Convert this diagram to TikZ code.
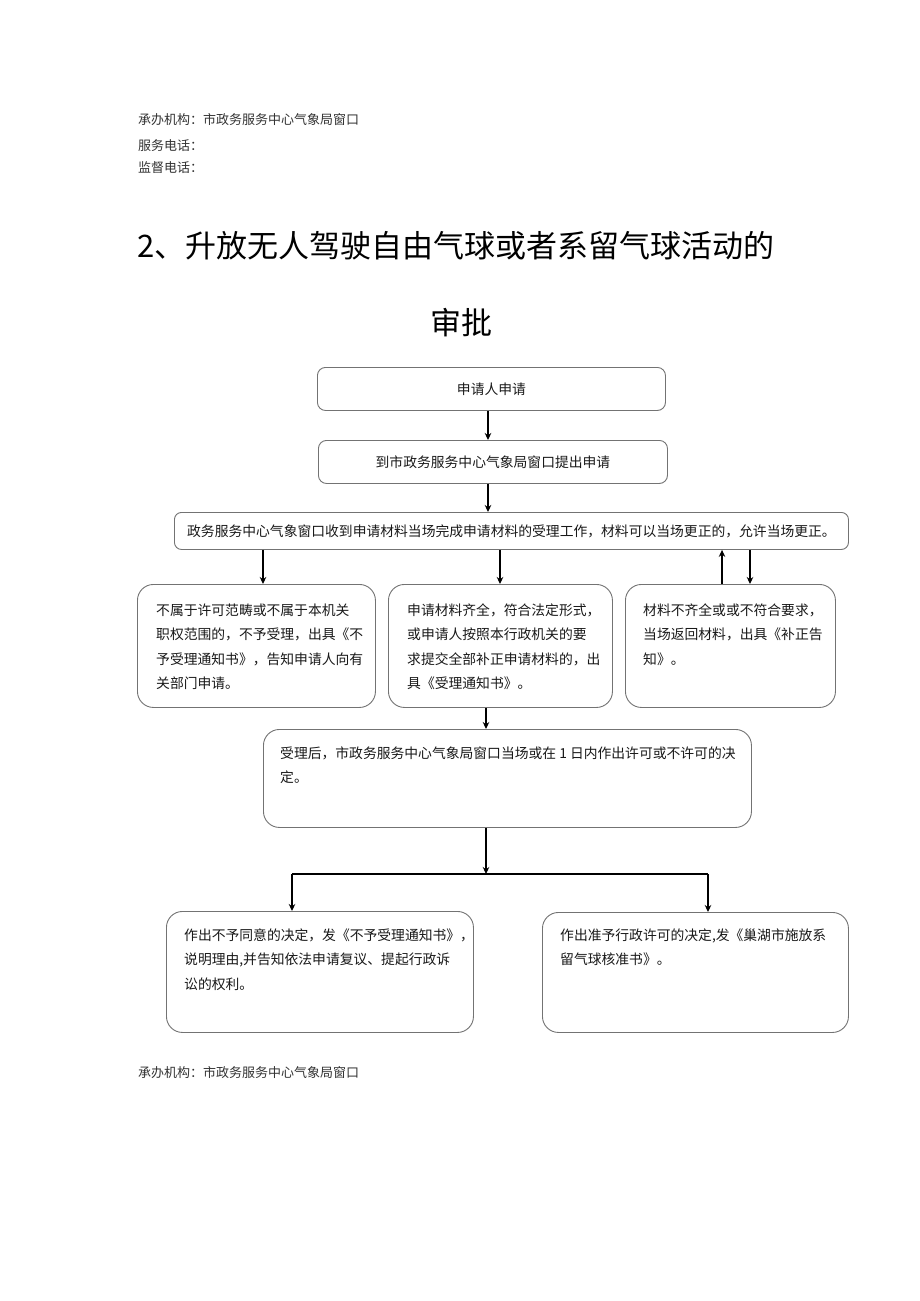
\documentclass[tikz,border=0pt]{standalone}
\usepackage{fontspec}
\newfontfamily\cjk{Noto Sans CJK SC}
\usetikzlibrary{arrows.meta,calc}
\begin{document}
\begin{tikzpicture}[x=1pt,y=-1pt,
  box/.style={draw=black!55, line width=0.9pt, fill=white, inner sep=0pt, anchor=north west,
    font=\cjk\fontsize{13.8}{24.3}\selectfont, text=black!90},
  txt/.style={font=\cjk\fontsize{13.8}{24.3}\selectfont, text=black!90, inner sep=0pt, align=left, anchor=north west},
  hdr/.style={font=\cjk\fontsize{13}{15}\selectfont, text=black!80, inner sep=0pt, anchor=west},
  ttl/.style={font=\cjk\fontsize{31}{36}\selectfont, text=black, inner sep=0pt},
  arr/.style={-{Stealth[length=7pt,width=6.5pt]}, line width=1.3pt, draw=black},
  conn/.style={line width=1.3pt, draw=black}]
\useasboundingbox[fill=white] (0,0) rectangle (920,1301);

% header
\node[hdr] (h1) at (138,120) {承办机构：市政务服务中心气象局窗口};
\node[hdr] (h2) at (138,146) {服务电话：};
\node[hdr] (h3) at (138,168) {监督电话：};

% title
\node[ttl, anchor=west] (t1) at (137,246) {2、升放无人驾驶自由气球或者系留气球活动的};
\node[ttl] (t2) at (461,323) {审批};

% boxes
\node[box, rounded corners=8pt, minimum width=348pt, minimum height=43pt] (b1) at (317,367) {申请人申请};
\node[box, rounded corners=8pt, minimum width=349pt, minimum height=43pt] (b2) at (318,440) {到市政务服务中心气象局窗口提出申请};
\node[box, rounded corners=7pt, minimum width=674pt, minimum height=37pt] (b3) at (174,512) {政务服务中心气象窗口收到申请材料当场完成申请材料的受理工作，材料可以当场更正的，允许当场更正。};

\node[box, rounded corners=16pt, minimum width=238pt, minimum height=123pt] (b4a) at (137,584) {};
\node[box, rounded corners=16pt, minimum width=224pt, minimum height=123pt] (b4b) at (388,584) {};
\node[box, rounded corners=16pt, minimum width=210pt, minimum height=123pt] (b4c) at (625,584) {};

\node[box, rounded corners=16pt, minimum width=488pt, minimum height=98pt] (b5) at (263,729) {};

\node[box, rounded corners=16pt, minimum width=307pt, minimum height=121pt] (b6a) at (166,911) {};
\node[box, rounded corners=16pt, minimum width=306pt, minimum height=120pt] (b6b) at (542,912) {};

% box texts (first baseline = top + strut height 17pt)
\node[txt] (x4a) at (156,598.3) {\strut 不属于许可范畴或不属于本机关\\职权范围的，不予受理，出具《不\\予受理通知书》，告知申请人向有\\关部门申请。};
\node[txt] (x4b) at (407,598.3) {\strut 申请材料齐全，符合法定形式，\\或申请人按照本行政机关的要\\求提交全部补正申请材料的，出\\具《受理通知书》。};
\node[txt] (x4c) at (643,598.3) {\strut 材料不齐全或或不符合要求，\\当场返回材料，出具《补正告\\知》。};
\node[txt] (x5) at (280,741.3) {\strut 受理后，市政务服务中心气象局窗口当场或在 1 日内作出许可或不许可的决\\定。};
\node[txt] (x6a) at (184,923.3) {\strut 作出不予同意的决定，发《不予受理通知书》，\\说明理由,并告知依法申请复议、提起行政诉\\讼的权利。};
\node[txt] (x6b) at (560,923.3) {\strut 作出准予行政许可的决定,发《巢湖市施放系\\留气球核准书》。};

% footer
\node[hdr] (f1) at (138,1073) {承办机构：市政务服务中心气象局窗口};

% connector coordinates
\coordinate (c12) at (488,0);
\coordinate (ca) at (263,0);
\coordinate (cb) at (500,0);
\coordinate (cup) at (722,0);
\coordinate (cdn) at (750,0);
\coordinate (c45) at (486,0);
\coordinate (split) at (486,874);
\coordinate (cl) at (292,0);
\coordinate (cr) at (708,0);

% connectors
\draw[arr] (b1.south -| c12) -- (b2.north -| c12);
\draw[arr] (b2.south -| c12) -- (b3.north -| c12);
\draw[arr] (b3.south -| ca) -- (b4a.north -| ca);
\draw[arr] (b3.south -| cb) -- (b4b.north -| cb);
\draw[arr] (b4c.north -| cup) -- (b3.south -| cup);
\draw[arr] (b3.south -| cdn) -- (b4c.north -| cdn);
\draw[arr] (b4b.south -| c45) -- (b5.north -| c45);
\draw[arr] (b5.south -| split) -- (split);
\draw[conn] (split -| cl) -- (split -| cr);
\draw[arr] (split -| cl) -- (b6a.north -| cl);
\draw[arr] (split -| cr) -- (b6b.north -| cr);
\end{tikzpicture}
\end{document}
